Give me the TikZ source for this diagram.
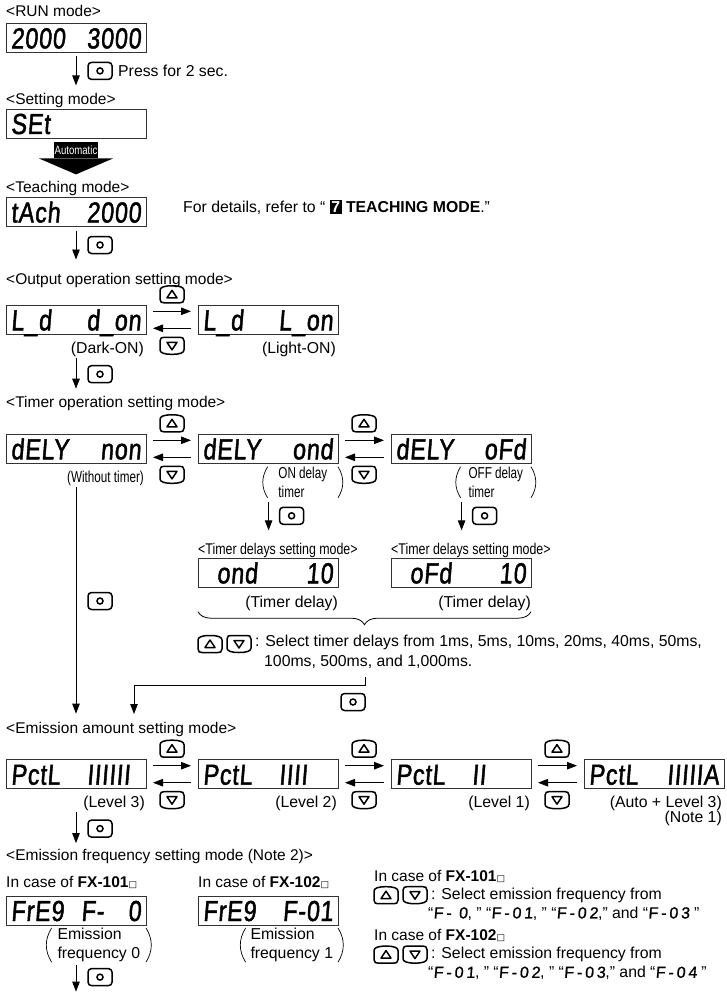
\documentclass[tikz,border=0pt]{standalone}
\usepackage{fontspec}
\setmainfont{Liberation Sans}
\newfontfamily\condfont[FakeStretch=0.8]{Liberation Sans}
\newfontfamily\notefont[FakeStretch=0.74]{Liberation Sans}
\newfontfamily\lcdfont[FakeStretch=0.8,FakeSlant=0.08,FakeBold=1.5,LetterSpace=3]{Liberation Sans}
\newfontfamily\lcdinline[FakeSlant=0.08,FakeBold=1,LetterSpace=18]{Liberation Sans}
\newfontfamily\symfont{DejaVu Sans}
\usetikzlibrary{positioning,arrows.meta,decorations.pathreplacing}

\newcommand{\basesize}{\fontsize{15.8}{19}\selectfont}
\newcommand{\labelsize}{\fontsize{15.5}{19}\selectfont}
\newcommand{\lcdtext}[1]{{\lcdinline\fontsize{16}{16}\selectfont #1}}
\newcommand{\boxmark}{{\symfont\fontsize{9}{9}\selectfont □}}
\newcommand{\secnum}[1]{{\setlength{\fboxsep}{1.5pt}\colorbox{black}{\textcolor{white}{\bfseries #1}}}}

\tikzset{
  lcdbox/.style={draw=black!80, line width=0.8pt, minimum width=140pt, minimum height=29pt,
    inner sep=0pt, outer sep=0pt, text width=130pt, text height=21pt, text depth=0pt,
    font=\lcdfont\fontsize{29}{29}\selectfont},
  modetext/.style={inner sep=0pt, text height=12.5pt, text depth=0.5pt, font=\labelsize},
  modecond/.style={modetext, font=\condfont\labelsize},
  capt/.style={modetext, font=\basesize},
  seltext/.style={inner sep=0pt, align=left, font=\fontsize{15.8}{19.5}\selectfont},
  parenbox/.style={inner ysep=0pt, inner xsep=0pt, align=left, font=\basesize,
    append after command={
      (\tikzlastnode.north west) edge[parenline, bend right=32] (\tikzlastnode.south west)
      (\tikzlastnode.north east) edge[parenline, bend left=32] (\tikzlastnode.south east)}},
  parenline/.style={line width=0.7pt},
  keyline/.style={line width=1.5pt},
  keynode/.style={minimum width=26pt, minimum height=20pt, inner sep=0pt, outer sep=0pt},
  setkey/.style={keynode, path picture={
    \begin{scope}[shift={(path picture bounding box.center)}]
      \draw[keyline, rounded corners=3.5pt] (-12,-8.5) rectangle (12,8.5);
      \draw[keyline] (0,0) circle (3);
    \end{scope}}},
  upkey/.style={keynode, path picture={
    \begin{scope}[shift={(path picture bounding box.center)}]
      \draw[keyline] (-12,-5) -- (-12,4) .. controls (-12,7) and (-8,8.5) .. (0,8.5)
        .. controls (8,8.5) and (12,7) .. (12,4) -- (12,-5)
        .. controls (12,-8) and (10,-8.5) .. (8,-8.5) -- (-8,-8.5)
        .. controls (-10,-8.5) and (-12,-8) .. (-12,-5) -- cycle;
      \draw[keyline, line join=round] (-5,-3.5) -- (5,-3.5) -- (0,4) -- cycle;
    \end{scope}}},
  downkey/.style={keynode, path picture={
    \begin{scope}[shift={(path picture bounding box.center)}]
      \draw[keyline] (-12,5) -- (-12,-4) .. controls (-12,-7) and (-8,-8.5) .. (0,-8.5)
        .. controls (8,-8.5) and (12,-7) .. (12,-4) -- (12,5)
        .. controls (12,8) and (10,8.5) .. (8,8.5) -- (-8,8.5)
        .. controls (-10,8.5) and (-12,8) .. (-12,5) -- cycle;
      \draw[keyline, line join=round] (-5,3.5) -- (5,3.5) -- (0,-4) -- cycle;
    \end{scope}}},
  flow/.style={line width=0.9pt, -{Triangle[length=10pt,width=7.5pt]}},
  downflow/.style={flow, shorten <=4pt, shorten >=-4.5pt},
  sideflow/.style={flow, shorten <=7pt, shorten >=7pt},
}

\begin{document}
\begin{tikzpicture}[x=1pt,y=1pt]

  \useasboundingbox (0,0) rectangle (727,-995);

  % run, setting and teaching
  \node[lcdbox, anchor=north west] (run) at (6,-23.4) {2000\hfill 3000};
  \node[modetext, above right=6pt and 0pt of run.north west, anchor=south west] (runlbl) {<RUN mode>};

  \node[lcdbox, below right=56.6pt and 0pt of run.south west, anchor=north west] (setm) {SEt\hfill};
  \node[modetext, above right=4pt and 0pt of setm.north west, anchor=south west] (setlbl) {<Setting mode>};
  \node[setkey, below right=8.5pt and 11pt of run.south, anchor=north west] (k1) {};
  \node[capt, right=5pt of k1] (presslbl) {Press for 2 sec.};
  \draw[downflow] (run.south) -- (run.south |- k1.south);

  \node[fill=black, text=white, inner sep=0pt, minimum width=44pt, minimum height=16pt,
        font=\condfont\fontsize{12}{12}\selectfont, below=4pt of setm] (autotag) {Automatic};
  \fill ([xshift=-15pt]autotag.south west) -- ([xshift=15pt]autotag.south east)
        -- ([yshift=-16pt]autotag.south) -- cycle;

  \node[lcdbox, below right=59.5pt and 0pt of setm.south west, anchor=north west] (tach) {tAch\hfill 2000};
  \node[modetext, above right=4pt and 0pt of tach.north west, anchor=south west] (tachlbl) {<Teaching mode>};
  \node[capt, below right=2pt and 37pt of tach.north east, anchor=north west] (refer)
    {For details, refer to “ \secnum{7} \textbf{TEACHING MODE}.”};
  \node[setkey, below right=8.5pt and 11pt of tach.south, anchor=north west] (k2) {};
  \draw[downflow] (tach.south) -- (tach.south |- k2.south);

  % output operation
  \node[lcdbox, below right=78.8pt and 0pt of tach.south west, anchor=north west] (dark) {L\_d\hfill d\_on};
  \node[lcdbox, right=52pt of dark] (light) {L\_d\hfill L\_on};
  \node[modetext, above right=20pt and 0pt of dark.north west, anchor=south west] (outlbl) {<Output operation setting mode>};
  \node[capt, below left=6pt and 2pt of dark.south east, anchor=north east] (darklbl) {(Dark-ON)};
  \node[capt, below left=6pt and 2pt of light.south east, anchor=north east] (lightlbl) {(Light-ON)};
  \node[upkey, above right=1pt and 13pt of dark.north east, anchor=south west] (u1) {};
  \node[downkey, below right=1.5pt and 13pt of dark.south east, anchor=north west] (d1) {};
  \draw[sideflow] ([yshift=8.5pt]dark.east) -- ([yshift=8.5pt]light.west);
  \draw[sideflow] ([yshift=-8.5pt]light.west) -- ([yshift=-8.5pt]dark.east);
  \node[setkey, below right=10.5pt and 11pt of darklbl.south -| dark.south, anchor=north west] (k3) {};
  \draw[downflow] (darklbl.south -| dark.south) -- (dark.south |- k3.south);

  % timer operation
  \node[lcdbox, below right=100pt and 0pt of dark.south west, anchor=north west] (non) {dELY\hfill non};
  \node[lcdbox, right=52pt of non] (ond) {dELY\hfill ond};
  \node[lcdbox, right=53pt of ond] (ofd) {dELY\hfill oFd};
  \node[modetext, above right=25.8pt and 0pt of non.north west, anchor=south west] (timlbl) {<Timer operation setting mode>};
  \node[capt, font=\notefont\basesize, below left=6pt and 2pt of non.south east, anchor=north east] (nonlbl) {(Without timer)};
  \node[upkey, above right=1pt and 13pt of non.north east, anchor=south west] (u2) {};
  \node[downkey, below right=1.5pt and 13pt of non.south east, anchor=north west] (d2) {};
  \node[upkey, above right=1pt and 13pt of ond.north east, anchor=south west] (u3) {};
  \node[downkey, below right=1.5pt and 13pt of ond.south east, anchor=north west] (d3) {};
  \draw[sideflow] ([yshift=8.5pt]non.east) -- ([yshift=8.5pt]ond.west);
  \draw[sideflow] ([yshift=-8.5pt]ond.west) -- ([yshift=-8.5pt]non.east);
  \draw[sideflow] ([yshift=8.5pt]ond.east) -- ([yshift=8.5pt]ofd.west);
  \draw[sideflow] ([yshift=-8.5pt]ofd.west) -- ([yshift=-8.5pt]ond.east);

  \node[parenbox, font=\notefont\basesize, minimum width=70pt, below left=3.5pt and 0pt of ond.south east, anchor=north east] (ondnote)
    {ON delay\\timer};
  \node[parenbox, font=\notefont\basesize, minimum width=70pt, below left=3.5pt and 0pt of ofd.south east, anchor=north east] (ofdnote)
    {OFF delay\\timer};
  \node[setkey, below right=8pt and 11pt of ondnote.south west, anchor=north west] (k4) {};
  \node[setkey, below right=8pt and 11pt of ofdnote.south west, anchor=north west] (k5) {};
  \draw[downflow] ([xshift=1pt]ondnote.south west) -- ([xshift=1pt]ondnote.south west |- k4.south);
  \draw[downflow] ([xshift=1pt]ofdnote.south west) -- ([xshift=1pt]ofdnote.south west |- k5.south);

  % timer delay
  \node[lcdbox, below right=95pt and 0pt of ond.south west, anchor=north west] (ondval) {\hspace*{14pt}ond\hfill 10};
  \node[lcdbox, below right=95pt and 0pt of ofd.south west, anchor=north west] (ofdval) {\hspace*{14pt}oFd\hfill 10};
  \node[modecond, above right=3.3pt and 0pt of ondval.north west, anchor=south west] (ondtop) {<Timer delays setting mode>};
  \node[modecond, above right=3.3pt and 0pt of ofdval.north west, anchor=south west] (ofdtop) {<Timer delays setting mode>};
  \node[capt, below left=7pt and 0pt of ondval.south east, anchor=north east] (ondcap) {(Timer delay)};
  \node[capt, below left=7pt and 0pt of ofdval.south east, anchor=north east] (ofdcap) {(Timer delay)};
  \draw[line width=0.8pt, decorate, decoration={brace, mirror, amplitude=13pt}]
    ([yshift=-4pt]ondcap.south -| ondval.west) -- ([yshift=-4pt]ondcap.south -| ofdval.east);

  \node[upkey, below right=46.7pt and -1pt of ondval.south west, anchor=north west] (u4) {};
  \node[downkey, right=3pt of u4] (d4) {};
  \node[seltext, right=3pt of d4, yshift=-8pt] (seltime)
    {: Select timer delays from 1ms, 5ms, 10ms, 20ms, 40ms, 50ms,\\
     \hspace*{9pt}100ms, 500ms, and 1,000ms.};

  % to emission amount
  \node[lcdbox, anchor=north west] (lvl3) at (6,-759.7) {PctL\hfill\makebox[54pt][l]{IIIIII}};
  \node[lcdbox, right=52pt of lvl3] (lvl2) {PctL\hfill\makebox[54pt][l]{IIII}};
  \node[lcdbox, right=53pt of lvl2] (lvl1) {PctL\hfill\makebox[54pt][l]{II}};
  \node[lcdbox, right=53pt of lvl1] (lvla) {PctL\hfill IIIIIA};
  \node[modetext, above right=25.7pt and 0pt of lvl3.north west, anchor=south west] (emlbl) {<Emission amount setting mode>};

  \coordinate (tdstart) at (365,-677);
  \coordinate (tdend) at (134,-714);
  \node[setkey, below left=15pt and -1pt of tdstart, anchor=north east] (k7) {};
  \node[setkey, below right=127.7pt and 11pt of non.south, anchor=north west] (k6) {};
  \draw[flow, shorten <=4pt, shorten >=7pt] (nonlbl.south -| non.south) -- (non.south |- emlbl.north);
  \draw[flow] (tdstart) -- ++(0,-8) -| (tdend);

  % emission amount
  \foreach \a/\b/\n in {lvl3/lvl2/a, lvl2/lvl1/b, lvl1/lvla/c}{
    \node[upkey, above right=1pt and 13pt of \a.north east, anchor=south west] (u\n) {};
    \node[downkey, below right=1.5pt and 13pt of \a.south east, anchor=north west] (d\n) {};
    \draw[sideflow] ([yshift=8.5pt]\a.east) -- ([yshift=8.5pt]\b.west);
    \draw[sideflow] ([yshift=-8.5pt]\b.west) -- ([yshift=-8.5pt]\a.east);
  }
  \node[capt, below left=6pt and 1pt of lvl3.south east, anchor=north east] (lvl3lbl) {(Level 3)};
  \node[capt, below left=6pt and 1pt of lvl2.south east, anchor=north east] (lvl2lbl) {(Level 2)};
  \node[capt, below left=6pt and 1pt of lvl1.south east, anchor=north east] (lvl1lbl) {(Level 1)};
  \node[capt, below left=6pt and 2pt of lvla.south east, anchor=north east] (lvlalbl) {(Auto + Level 3)};
  \node[capt, below left=2pt and 0pt of lvlalbl.south east, anchor=north east] (notelbl) {(Note 1)};
  \node[setkey, below right=10.5pt and 11pt of lvl3lbl.south -| lvl3.south, anchor=north west] (k8) {};
  \draw[downflow] (lvl3lbl.south -| lvl3.south) -- (lvl3.south |- k8.south);

  % emission frequency
  \node[lcdbox, below right=107.3pt and 0pt of lvl3.south west, anchor=north west] (freqa) {FrE9\hfill F-\ \ \,0};
  \node[lcdbox, right=52pt of freqa] (freqb) {FrE9\hfill F-01};
  \node[modetext, above right=8pt and 0pt of freqa.north west, anchor=south west] (casea) {In case of \textbf{FX-101}\boxmark};
  \node[modetext, above right=8pt and 0pt of freqb.north west, anchor=south west] (caseb) {In case of \textbf{FX-102}\boxmark};
  \node[modetext, above right=13.7pt and 0pt of casea.north west, anchor=south west] (freqlbl) {<Emission frequency setting mode (Note 2)>};
  \node[parenbox, minimum width=94pt, below left=3pt and 0pt of freqa.south east, anchor=north east] (freqanote) {Emission\\frequency 0};
  \node[parenbox, minimum width=92pt, below left=3pt and 0pt of freqb.south east, anchor=north east] (freqbnote) {Emission\\frequency 1};
  \node[setkey, below right=5pt and 11pt of freqanote.south -| freqa.south, anchor=north west] (k9) {};
  \draw[downflow, shorten <=3pt] (freqanote.south -| freqa.south) -- (freqa.south |- k9.south);

  % right column
  \node[modetext, anchor=west] (sidea) at (374,-875) {In case of \textbf{FX-101}\boxmark};
  \node[upkey, below right=3.5pt and -1pt of sidea.south west, anchor=north west] (u5) {};
  \node[downkey, right=3pt of u5] (d5) {};
  \node[seltext, font=\basesize, right=3pt of d5, yshift=-9pt] (sela)
    {: Select emission frequency from\\
     \hspace*{-3pt}“\lcdtext{F-\ 0}, ” “\lcdtext{F-01}, ” “\lcdtext{F-02},” and “\lcdtext{F-03} ”};

  \node[modetext, below right=46pt and 0pt of sidea.south west, anchor=north west] (sideb) {In case of \textbf{FX-102}\boxmark};
  \node[upkey, below right=3.5pt and -1pt of sideb.south west, anchor=north west] (u6) {};
  \node[downkey, right=3pt of u6] (d6) {};
  \node[seltext, font=\basesize, right=3pt of d6, yshift=-9pt] (selb)
    {: Select emission frequency from\\
     \hspace*{-3pt}“\lcdtext{F-01}, ” “\lcdtext{F-02}, ” “\lcdtext{F-03},” and “\lcdtext{F-04} ”};

\end{tikzpicture}
\end{document}
